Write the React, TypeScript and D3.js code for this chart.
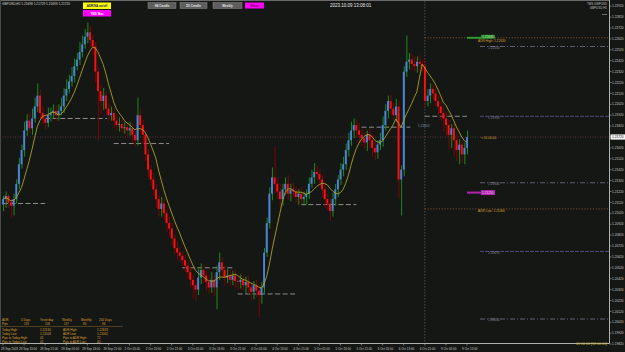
import React from 'react';
import * as d3 from 'd3';

// ---- data (hourly GBPUSD bars) ----
const firstOpen = 1.2110;
const closes = [
  1.2115, 1.2118, 1.2112, 1.2109, 1.2115, 1.2129, 1.2147, 1.2160, 1.2178, 1.2187,
  1.2180, 1.2189, 1.2200, 1.2210, 1.2194, 1.2189, 1.2185, 1.2192, 1.2194, 1.2196,
  1.2192, 1.2196, 1.2200, 1.2210, 1.2216, 1.2223, 1.2228, 1.2237, 1.2243, 1.2250,
  1.2257, 1.2264, 1.2268, 1.2261, 1.2255, 1.2232, 1.2214, 1.2205, 1.2210, 1.2198,
  1.2192, 1.2194, 1.2187, 1.2183, 1.2184, 1.2180, 1.2181, 1.2178, 1.2180, 1.2174,
  1.2169, 1.2192, 1.2183, 1.2174, 1.2156, 1.2142, 1.2133, 1.2124, 1.2115, 1.2106,
  1.2111, 1.2102, 1.2093, 1.2088, 1.2079, 1.2070, 1.2066, 1.2063, 1.2059, 1.2054,
  1.2048, 1.2041, 1.2036, 1.2032, 1.2043, 1.2050, 1.2045, 1.2039, 1.2034, 1.2041,
  1.2034, 1.2048, 1.2057, 1.2050, 1.2043, 1.2045, 1.2041, 1.2045, 1.2040, 1.2039,
  1.2041, 1.2036, 1.2039, 1.2034, 1.2030, 1.2036, 1.2031, 1.2027, 1.2034, 1.2066,
  1.2093, 1.2120, 1.2135, 1.2129, 1.2122, 1.2115, 1.2124, 1.2129, 1.2120, 1.2124,
  1.2122, 1.2117, 1.2120, 1.2115, 1.2117, 1.2120, 1.2129, 1.2135, 1.2140, 1.2138,
  1.2133, 1.2124, 1.2115, 1.2111, 1.2104, 1.2115, 1.2124, 1.2133, 1.2142, 1.2147,
  1.2160, 1.2169, 1.2178, 1.2183, 1.2178, 1.2174, 1.2171, 1.2167, 1.2174, 1.2169,
  1.2162, 1.2158, 1.2165, 1.2169, 1.2183, 1.2196, 1.2205, 1.2198, 1.2192, 1.2200,
  1.2133, 1.2142, 1.2232, 1.2241, 1.2243, 1.2239, 1.2237, 1.2241, 1.2239, 1.2237,
  1.2205, 1.2210, 1.2216, 1.2212, 1.2205, 1.2200, 1.2194, 1.2189, 1.2183, 1.2174,
  1.2180, 1.2169, 1.2160, 1.2165, 1.2156, 1.2162, 1.2172,
];
// wick lengths beyond the body, in pips
const upperWickPips = [
  3, 4, 2, 3, 5, 4, 6, 5, 8, 6,
  7, 9, 8, 11, 5, 6, 4, 7, 5, 6,
  5, 6, 8, 7, 9, 6, 8, 7, 6, 9,
  8, 7, 9, 6, 5, 4, 5, 6, 7, 4,
  5, 6, 4, 5, 6, 4, 5, 4, 6, 5,
  4, 16, 6, 5, 4, 5, 4, 6, 5, 4,
  6, 5, 4, 6, 5, 4, 6, 5, 4, 5,
  4, 5, 4, 5, 8, 6, 5, 4, 6, 7,
  5, 6, 9, 5, 4, 6, 5, 4, 5, 4,
  5, 4, 5, 6, 5, 4, 5, 6, 5, 4,
  5, 6, 9, 28, 6, 7, 5, 6, 8, 5,
  6, 5, 4, 6, 5, 4, 6, 7, 8, 6,
  5, 4, 6, 5, 4, 6, 5, 4, 6, 7,
  6, 7, 8, 6, 5, 7, 5, 6, 4, 6,
  5, 6, 4, 7, 8, 6, 5, 6, 5, 7,
  5, 4, 5, 24, 6, 5, 7, 5, 6, 4,
  5, 6, 5, 4, 6, 5, 4, 5, 6, 5,
  4, 5, 6, 5, 4, 5, 6,
];
const lowerWickPips = [
  6, 8, 5, 11, 9, 4, 5, 4, 6, 5,
  5, 6, 4, 5, 7, 5, 6, 4, 6, 5,
  6, 5, 4, 6, 5, 4, 5, 6, 4, 5,
  5, 4, 6, 7, 8, 10, 45, 12, 8, 6,
  6, 5, 7, 5, 6, 4, 5, 6, 5, 7,
  6, 5, 7, 8, 6, 7, 5, 6, 8, 7,
  7, 6, 8, 7, 6, 5, 7, 6, 5, 6,
  6, 7, 12, 10, 5, 6, 7, 8, 6, 5,
  8, 20, 7, 6, 8, 5, 6, 5, 6, 7,
  6, 5, 7, 6, 8, 7, 6, 20, 8, 5,
  4, 5, 6, 9, 7, 8, 6, 5, 6, 7,
  5, 6, 7, 5, 6, 7, 5, 4, 6, 5,
  6, 7, 8, 6, 9, 5, 6, 7, 5, 6,
  5, 6, 5, 7, 6, 8, 7, 6, 8, 7,
  8, 7, 6, 5, 6, 5, 7, 6, 5, 6,
  18, 33, 6, 5, 7, 6, 5, 6, 7, 5,
  6, 5, 7, 6, 5, 8, 7, 12, 10, 14,
  12, 15, 10, 13, 8, 9, 6,
];
const maPeriod = 8;
const currentPrice = 1.2172;

const priceTicks = [
  1.2292, 1.2282, 1.2272, 1.2262, 1.2252, 1.2242, 1.2232, 1.2222, 1.2212, 1.2202,
  1.2192, 1.2182, 1.2172, 1.2162, 1.2152, 1.2142, 1.2132, 1.2122, 1.2112, 1.2102,
  1.2092, 1.2082, 1.2072, 1.2062, 1.2052, 1.2042, 1.2032, 1.2022, 1.2012, 1.2002,
  1.1992, 1.1982,
];
const timeLabelBars = [0, 8, 16, 24, 32, 40, 48, 56, 64, 72, 80, 88, 96, 104, 112, 120, 128, 136, 144, 152, 160, 168, 176];
const timeLabels = [
  '28 Sep 2023', '28 Sep 13:00', '28 Sep 21:00', '29 Sep 05:00', '29 Sep 13:00', '29 Sep 21:00',
  '2 Oct 05:00', '2 Oct 13:00', '2 Oct 21:00', '3 Oct 05:00', '3 Oct 13:00', '3 Oct 21:00',
  '4 Oct 05:00', '4 Oct 13:00', '4 Oct 21:00', '5 Oct 05:00', '5 Oct 13:00', '5 Oct 21:00',
  '6 Oct 05:00', '6 Oct 13:00', '6 Oct 21:00', '9 Oct 05:00', '9 Oct 13:00',
];

// daily open levels (price, from bar, to bar)
const dailyOpenPrices = [1.2111, 1.2189, 1.2166, 1.2052, 1.2028, 1.2110, 1.2181, 1.2191];
const dailyOpenFrom = [0, 16, 42, 68, 89, 113, 136, 160];
const dailyOpenTo = [16, 39.5, 63, 87, 111, 134, 154.5, 176];

const pivotPrices = [1.2255, 1.2191, 1.2130, 1.2067, 1.2005];
const adrHigh = 1.2263;
const adrLow = 1.2106;
const buyLevel = 1.2263;
const sellLevel = 1.2121;
const separatorBar = 160;

const panelHeader = ['ADR', '5 Days', 'Yesterday', 'Weekly', 'Monthly', '200 Days'];
const panelPips = ['Pips', '113', '103', '117', '84', '96'];
const panelRows = [
  ['Today High:', '1.22130', 'ADR High:', '1.22633'],
  ['Today Low:', '1.21508', 'ADR Low:', '1.21062'],
  ['Pips to Today High:', '41', 'Pips to ADR High:', '72'],
  ['Pips to Today Low:', '41', 'Pips to ADR Low:', '40'],
];

export default function App() {
  const W = 625, H = 352;
  const plotRight = 609.5, plotBottom = 343.5;
  const pip = 0.0001;
  const x = d3.scaleLinear().domain([0, 176]).range([3, 467]);
  const y = d3.scaleLinear().domain([1.2172, 1.2072]).range([137, 246]);

  const bars = closes.map((c, i) => {
    const o = i === 0 ? firstOpen : closes[i - 1];
    const hi = Math.max(o, c) + upperWickPips[i] * pip;
    const lo = Math.min(o, c) - lowerWickPips[i] * pip;
    return { i, o, c, hi, lo, up: c >= o };
  });

  const ma = closes.map((_, i) => d3.mean(closes.slice(Math.max(0, i - maPeriod + 1), i + 1)) as number);
  const maPath = d3.line<number>().x((_, i) => x(i)).y((v) => y(v)).curve(d3.curveLinear)(ma) || '';

  const font = "'Liberation Sans', Arial, sans-serif";
  const orange = '#d9a030';
  const fs = 3.2;

  return (
    <svg width={W} height={H} style={{ position: 'absolute', left: 0, top: 0, display: 'block' }} fontFamily={font}>
      <rect x={0} y={0} width={W} height={H} fill="#151715" />
      {/* frame */}
      <line x1={0} x2={plotRight} y1={0.5} y2={0.5} stroke="#6a6a6a" strokeWidth={1} />
      <line x1={0.5} x2={0.5} y1={0} y2={plotBottom} stroke="#4a4a4a" strokeWidth={1} />

      {/* current price dotted line */}
      <line x1={0} x2={plotRight} y1={y(currentPrice)} y2={y(currentPrice)} stroke="#6b3c3c" strokeWidth={0.8} strokeDasharray="1,1.5" />

      {/* separator */}
      <line x1={x(separatorBar)} x2={x(separatorBar)} y1={1} y2={plotBottom} stroke="#5d5566" strokeWidth={0.8} strokeDasharray="1.5,1.5" />

      {/* ADR high / low dotted lines */}
      {[adrHigh, adrLow].map((p, k) => (
        <line key={'adr' + k} x1={x(separatorBar)} x2={plotRight} y1={y(p)} y2={y(p)} stroke="#8a5530" strokeWidth={0.9} strokeDasharray="1.2,1.6" />
      ))}

      {/* pivot lines */}
      {pivotPrices.map((p, k) => {
        const purple = k === 1 || k === 3;
        return (
          <g key={'pv' + k}>
            <line x1={480} x2={plotRight} y1={y(p)} y2={y(p)} stroke={purple ? '#50508a' : '#6a6a7e'} strokeWidth={0.9}
              strokeDasharray={purple ? '4,1' : '5,2,1,2'} />
            <text x={488} y={y(p) + 2.3} fontSize={fs} fill="#8a8aa0">{p.toFixed(5)}</text>
          </g>
        );
      })}

      {/* daily open dashed segments */}
      {dailyOpenPrices.map((p, k) => (
        <line key={'do' + k} x1={x(dailyOpenFrom[k])} x2={x(dailyOpenTo[k])} y1={y(p)} y2={y(p)} stroke="#9a9a9a" strokeWidth={0.9} strokeDasharray="5,2.5" />
      ))}
      <text x={418} y={y(dailyOpenPrices[6]) + 0.3} fontSize={fs} fill="#7f98b0">{dailyOpenPrices[6].toFixed(5)}</text>

      {/* wicks */}
      {bars.map((b) => (
        <line key={'w' + b.i} x1={x(b.i) + 0.5} x2={x(b.i) + 0.5} y1={y(b.hi)} y2={y(b.lo)} stroke={b.up ? '#1d8a1d' : '#7a0606'} strokeWidth={1} />
      ))}
      {/* bodies */}
      {bars.map((b) => {
        const top = y(Math.max(b.o, b.c));
        const h = Math.max(1, Math.abs(y(b.o) - y(b.c)));
        return <rect key={'b' + b.i} x={x(b.i) - 0.9} y={top} width={1.9} height={h} fill={b.up ? '#4a84dc' : '#ff1010'} />;
      })}

      {/* moving average */}
      <path d={maPath} fill="none" stroke="#a9a028" strokeWidth={0.9} />

      {/* buy / sell markers */}
      <line x1={x(176)} x2={481} y1={y(buyLevel)} y2={y(buyLevel)} stroke="#2f9a2f" strokeWidth={2} />
      <rect x={481} y={y(buyLevel) - 3} width={14} height={4} fill="#2c8a2c" />
      <text x={482} y={y(buyLevel) + 0.3} fontSize={fs} fill="#bfe8bf">{buyLevel.toFixed(5)}</text>
      <text x={478} y={y(adrHigh) + 4.6} fontSize={fs} fill={orange}>ADR High: {adrHigh.toFixed(5)}</text>

      <line x1={x(176)} x2={481} y1={y(sellLevel)} y2={y(sellLevel)} stroke="#b025b0" strokeWidth={2} />
      <rect x={481} y={y(sellLevel) - 2.5} width={14} height={5} fill="#b025b0" />
      <text x={482} y={y(sellLevel) + 1.2} fontSize={fs} fill="#f2d0f2">{sellLevel.toFixed(5)}</text>
      <text x={478} y={y(adrLow) + 2.6} fontSize={fs} fill={orange}>ADR Low: {adrLow.toFixed(5)}</text>

      <text x={481} y={y(currentPrice) + 2.2} fontSize={fs} fill={orange}>{'< 01:00:00'}</text>

      {/* axes */}
      <line x1={plotRight} x2={plotRight} y1={0} y2={plotBottom} stroke="#b0b0b0" strokeWidth={1} />
      <line x1={0} x2={plotRight} y1={plotBottom} y2={plotBottom} stroke="#b0b0b0" strokeWidth={1} />
      {priceTicks.map((p) => (
        <g key={'pt' + p}>
          <line x1={plotRight} x2={plotRight + 2} y1={y(p)} y2={y(p)} stroke="#b0b0b0" strokeWidth={0.6} />
          <text x={612} y={y(p) + 1.1} fontSize={fs} fill="#c8c8c8">{p.toFixed(5)}</text>
        </g>
      ))}
      <rect x={610.5} y={y(currentPrice) - 2.6} width={14.5} height={5.2} fill="#f4f4f4" />
      <text x={612} y={y(currentPrice) + 1.1} fontSize={fs} fill="#111">{currentPrice.toFixed(5)}</text>

      {timeLabelBars.map((bi, k) => (
        <g key={'tl' + k}>
          <line x1={x(bi)} x2={x(bi)} y1={plotBottom} y2={plotBottom + 2} stroke="#b0b0b0" strokeWidth={0.6} />
          <text x={Math.max(1, x(bi) - 5)} y={350.4} fontSize={3} fill="#c8c8c8">{timeLabels[k]}</text>
        </g>
      ))}
      <text x={607} y={345.3} fontSize={3.6} fill="#c9b220" textAnchor="end">01:00:00 [18:00:00]</text>

      {/* top-left / header */}
      <text x={2} y={5.4} fontSize={fs} fill="#d8d8d8">GBPUSD,H1  1.21698 1.21729 1.21693 1.21720</text>
      <rect x={83} y={2.5} width={28} height={6.5} fill="#ffff00" />
      <text x={97} y={7} fontSize={3} fill="#101070" textAnchor="middle" fontWeight="bold">ADR/SA on/off</text>
      <rect x={83} y={10} width={28} height={6.5} fill="#ff00ff" />
      <text x={97} y={14.5} fontSize={3} fill="#ffffff" textAnchor="middle" fontWeight="bold">TMS Max</text>

      {[['H4 Candle', 148, 28], ['D1 Candle', 180, 27], ['Weekly', 213, 29]].map(([t, bx, bw]) => (
        <g key={t as string}>
          <rect x={bx as number} y={2.5} width={bw as number} height={6} fill="#5e5e5e" stroke="#8a8a8a" strokeWidth={0.5} />
          <text x={(bx as number) + (bw as number) / 2} y={6.7} fontSize={3} fill="#e6e6e6" textAnchor="middle" fontWeight="bold">{t}</text>
        </g>
      ))}
      <rect x={245} y={2.5} width={19} height={6} fill="#ff00ff" />
      <text x={254.5} y={6.7} fontSize={3} fill="#5a0030" textAnchor="middle" fontWeight="bold">Pivot</text>

      <text x={330} y={6.6} fontSize={4.5} fill="#e8e8e8">2023.10.09 13:08:01</text>

      <text x={607} y={5.2} fontSize={3} fill="#bdbdbd" textAnchor="end">TMS-GBPUSD</text>
      <text x={607} y={9.2} fontSize={3} fill="#bdbdbd" textAnchor="end">GBPUSD H1</text>
      <line x1={602} x2={607} y1={14.5} y2={14.5} stroke="#9a9a9a" strokeWidth={0.7} />

      {/* info panel */}
      {panelHeader.map((t, k) => (
        <text key={'ph' + k} x={[2, 21, 40, 62, 81, 99][k]} y={321.2} fontSize={3} fill={orange}>{t}</text>
      ))}
      {panelPips.map((t, k) => (
        <text key={'pp' + k} x={[2, 24, 45, 64, 83, 102][k]} y={325.2} fontSize={3} fill={orange}>{t}</text>
      ))}
      <line x1={1} x2={123} y1={326.5} y2={326.5} stroke="#8a6a30" strokeWidth={0.5} />
      {panelRows.map((r, k) => (
        <g key={'pr' + k}>
          <text x={2} y={331.2 + k * 4} fontSize={3} fill={orange}>{r[0]}</text>
          <text x={40} y={331.2 + k * 4} fontSize={3} fill={orange}>{r[1]}</text>
          <text x={63} y={331.2 + k * 4} fontSize={3} fill={orange}>{r[2]}</text>
          <text x={97} y={331.2 + k * 4} fontSize={3} fill={orange}>{r[3]}</text>
        </g>
      ))}
    </svg>
  );
}
